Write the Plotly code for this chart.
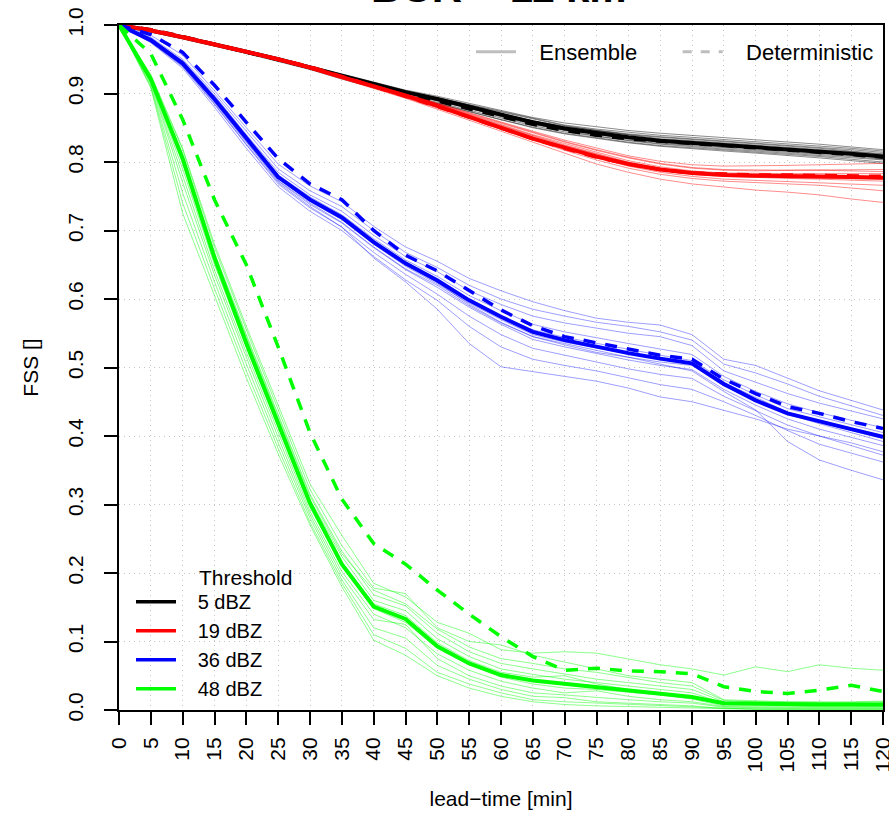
import plotly.graph_objects as go

LEAD = [0, 5, 10, 15, 20, 25, 30, 35, 40, 45, 50, 55, 60, 65, 70, 75, 80, 85, 90, 95, 100, 105, 110, 115, 120]
Y_TICKS = [0.0, 0.1, 0.2, 0.3, 0.4, 0.5, 0.6, 0.7, 0.8, 0.9, 1.0]
THRESHOLDS = ["5 dBZ", "19 dBZ", "36 dBZ", "48 dBZ"]
COLORS = ["#000000", "#FF0000", "#0000FF", "#00FF00"]
MEMBER_COLORS = ["rgba(0,0,0,0.45)", "rgba(255,0,0,0.45)", "rgba(0,0,255,0.38)", "rgba(0,255,0,0.45)"]

# ---- 5 dBZ ----
MEAN_5 = [1.0,0.992,0.982,0.972,0.961,0.950,0.938,0.925,0.913,0.902,0.892,0.881,0.869,0.858,0.849,0.842,0.836,0.831,0.828,0.825,0.822,0.819,0.815,0.812,0.808]
DET_5 = [1.0,0.993,0.983,0.972,0.961,0.950,0.938,0.925,0.912,0.900,0.889,0.878,0.866,0.855,0.846,0.839,0.834,0.830,0.827,0.824,0.821,0.818,0.814,0.811,0.807]
MEMBERS_5 = [
    [1.0,0.993,0.984,0.974,0.963,0.952,0.940,0.928,0.916,0.905,0.896,0.886,0.875,0.865,0.857,0.851,0.846,0.842,0.839,0.836,0.833,0.830,0.826,0.822,0.818],
    [1.0,0.991,0.981,0.970,0.958,0.947,0.935,0.921,0.908,0.896,0.885,0.873,0.861,0.850,0.841,0.834,0.828,0.823,0.819,0.816,0.813,0.810,0.806,0.802,0.798],
    [1.0,0.992,0.982,0.972,0.961,0.950,0.939,0.926,0.914,0.903,0.893,0.883,0.871,0.860,0.851,0.845,0.839,0.834,0.831,0.828,0.825,0.822,0.818,0.815,0.811],
    [1.0,0.992,0.983,0.973,0.962,0.951,0.939,0.926,0.913,0.901,0.890,0.879,0.866,0.855,0.846,0.838,0.832,0.827,0.824,0.821,0.818,0.815,0.811,0.808,0.804],
    [1.0,0.993,0.983,0.972,0.961,0.949,0.937,0.924,0.912,0.901,0.891,0.881,0.870,0.860,0.852,0.846,0.841,0.837,0.834,0.831,0.828,0.825,0.821,0.818,0.814],
    [1.0,0.991,0.981,0.971,0.960,0.949,0.937,0.923,0.910,0.898,0.887,0.876,0.864,0.853,0.844,0.837,0.831,0.826,0.822,0.819,0.816,0.813,0.810,0.807,0.803],
    [1.0,0.992,0.982,0.971,0.960,0.950,0.938,0.925,0.913,0.902,0.893,0.883,0.872,0.862,0.853,0.846,0.840,0.836,0.833,0.830,0.827,0.824,0.820,0.816,0.812],
    [1.0,0.992,0.982,0.972,0.961,0.950,0.937,0.924,0.911,0.900,0.889,0.878,0.867,0.856,0.847,0.840,0.834,0.829,0.826,0.823,0.820,0.817,0.813,0.810,0.806],
    [1.0,0.993,0.983,0.973,0.962,0.951,0.939,0.927,0.915,0.904,0.894,0.884,0.873,0.863,0.854,0.848,0.843,0.839,0.836,0.833,0.830,0.827,0.823,0.820,0.816],
    [1.0,0.991,0.981,0.971,0.960,0.948,0.936,0.922,0.909,0.897,0.886,0.874,0.862,0.851,0.842,0.835,0.829,0.824,0.821,0.818,0.815,0.812,0.808,0.804,0.800],
]

# ---- 19 dBZ ----
MEAN_19 = [1.0,0.992,0.982,0.972,0.961,0.950,0.938,0.924,0.911,0.897,0.882,0.866,0.849,0.834,0.821,0.808,0.797,0.789,0.784,0.781,0.780,0.780,0.779,0.778,0.777]
DET_19 = [1.0,0.993,0.983,0.972,0.962,0.951,0.939,0.925,0.911,0.896,0.881,0.865,0.849,0.834,0.820,0.807,0.797,0.789,0.784,0.782,0.781,0.781,0.780,0.780,0.779]
MEMBERS_19 = [
    [1.0,0.993,0.983,0.973,0.962,0.951,0.939,0.926,0.913,0.900,0.886,0.872,0.858,0.845,0.832,0.820,0.809,0.801,0.796,0.794,0.794,0.795,0.796,0.797,0.798],
    [1.0,0.991,0.981,0.971,0.960,0.948,0.936,0.922,0.908,0.893,0.877,0.861,0.845,0.829,0.812,0.797,0.785,0.775,0.768,0.763,0.759,0.756,0.752,0.746,0.741],
    [1.0,0.992,0.982,0.972,0.961,0.950,0.938,0.924,0.911,0.897,0.883,0.868,0.853,0.839,0.825,0.812,0.800,0.791,0.786,0.783,0.782,0.782,0.781,0.780,0.779],
    [1.0,0.992,0.982,0.971,0.960,0.949,0.937,0.923,0.909,0.895,0.880,0.864,0.849,0.834,0.820,0.806,0.794,0.785,0.779,0.775,0.773,0.772,0.770,0.768,0.766],
    [1.0,0.993,0.983,0.973,0.962,0.951,0.939,0.925,0.912,0.899,0.885,0.870,0.856,0.842,0.829,0.817,0.806,0.797,0.791,0.788,0.787,0.788,0.788,0.789,0.789],
    [1.0,0.992,0.982,0.972,0.961,0.950,0.938,0.924,0.910,0.896,0.881,0.866,0.851,0.836,0.822,0.809,0.797,0.788,0.782,0.779,0.777,0.776,0.775,0.773,0.772],
    [1.0,0.992,0.983,0.973,0.962,0.950,0.938,0.925,0.912,0.898,0.884,0.869,0.854,0.840,0.827,0.814,0.802,0.793,0.787,0.784,0.783,0.783,0.783,0.783,0.783],
    [1.0,0.991,0.981,0.971,0.960,0.949,0.937,0.923,0.910,0.896,0.882,0.867,0.852,0.838,0.824,0.811,0.799,0.790,0.784,0.780,0.778,0.777,0.776,0.776,0.775],
    [1.0,0.992,0.982,0.972,0.961,0.950,0.939,0.926,0.913,0.899,0.885,0.871,0.857,0.843,0.830,0.818,0.807,0.798,0.792,0.789,0.788,0.788,0.788,0.787,0.786],
    [1.0,0.992,0.982,0.972,0.961,0.949,0.937,0.923,0.909,0.894,0.879,0.863,0.847,0.832,0.817,0.803,0.791,0.782,0.776,0.772,0.770,0.768,0.766,0.762,0.758],
]

# ---- 36 dBZ ----
MEAN_36 = [1.0,0.978,0.944,0.892,0.835,0.778,0.745,0.719,0.683,0.652,0.627,0.598,0.574,0.552,0.540,0.530,0.521,0.513,0.506,0.476,0.452,0.433,0.421,0.410,0.399]
DET_36 = [1.0,0.986,0.960,0.912,0.858,0.805,0.768,0.745,0.700,0.664,0.641,0.612,0.584,0.561,0.545,0.536,0.527,0.518,0.512,0.483,0.462,0.443,0.433,0.421,0.411]
MEMBERS_36 = [
    [1.0,0.985,0.956,0.904,0.850,0.797,0.765,0.742,0.706,0.676,0.655,0.630,0.612,0.596,0.583,0.572,0.566,0.562,0.548,0.512,0.503,0.485,0.466,0.452,0.438],
    [1.0,0.982,0.950,0.900,0.845,0.790,0.758,0.735,0.700,0.668,0.646,0.620,0.600,0.585,0.575,0.566,0.560,0.552,0.540,0.505,0.492,0.476,0.458,0.444,0.430],
    [1.0,0.980,0.948,0.897,0.840,0.785,0.752,0.728,0.693,0.662,0.640,0.612,0.592,0.575,0.565,0.558,0.550,0.545,0.532,0.495,0.478,0.462,0.448,0.436,0.425],
    [1.0,0.979,0.946,0.894,0.838,0.781,0.749,0.723,0.688,0.657,0.633,0.605,0.583,0.563,0.552,0.543,0.535,0.527,0.519,0.487,0.465,0.447,0.434,0.423,0.412],
    [1.0,0.977,0.943,0.890,0.832,0.776,0.742,0.716,0.680,0.648,0.622,0.594,0.570,0.548,0.537,0.528,0.520,0.512,0.505,0.478,0.456,0.435,0.420,0.408,0.396],
    [1.0,0.978,0.944,0.893,0.836,0.778,0.746,0.720,0.685,0.654,0.630,0.600,0.575,0.555,0.544,0.535,0.526,0.518,0.510,0.482,0.460,0.440,0.428,0.416,0.405],
    [1.0,0.976,0.941,0.887,0.829,0.772,0.738,0.711,0.675,0.643,0.617,0.588,0.563,0.541,0.530,0.520,0.511,0.503,0.497,0.468,0.445,0.425,0.410,0.398,0.386],
    [1.0,0.979,0.945,0.892,0.834,0.779,0.747,0.721,0.684,0.650,0.624,0.592,0.566,0.545,0.533,0.522,0.515,0.508,0.503,0.473,0.452,0.432,0.418,0.405,0.392],
    [1.0,0.975,0.939,0.884,0.825,0.768,0.733,0.705,0.668,0.636,0.607,0.575,0.548,0.528,0.518,0.508,0.498,0.490,0.484,0.458,0.437,0.416,0.400,0.386,0.372],
    [1.0,0.974,0.937,0.880,0.820,0.764,0.728,0.700,0.662,0.628,0.598,0.560,0.530,0.512,0.503,0.495,0.485,0.475,0.468,0.450,0.430,0.408,0.388,0.375,0.362],
    [1.0,0.976,0.940,0.885,0.826,0.770,0.735,0.705,0.660,0.625,0.585,0.535,0.501,0.494,0.487,0.480,0.470,0.457,0.450,0.438,0.425,0.410,0.400,0.390,0.377],
    [1.0,0.977,0.942,0.888,0.830,0.773,0.740,0.712,0.676,0.644,0.620,0.590,0.565,0.545,0.535,0.525,0.515,0.505,0.495,0.465,0.438,0.392,0.365,0.350,0.336],
]

# ---- 48 dBZ ----
MEAN_48 = [1.0,0.921,0.805,0.660,0.535,0.420,0.302,0.213,0.151,0.133,0.093,0.068,0.051,0.043,0.038,0.034,0.028,0.024,0.019,0.010,0.009,0.009,0.008,0.008,0.008]
DET_48 = [1.0,0.958,0.862,0.745,0.650,0.530,0.405,0.308,0.243,0.213,0.175,0.140,0.107,0.078,0.058,0.061,0.057,0.056,0.053,0.034,0.027,0.024,0.029,0.036,0.027]
MEMBERS_48 = [
    [1.0,0.928,0.820,0.680,0.560,0.445,0.330,0.255,0.185,0.165,0.128,0.112,0.088,0.083,0.085,0.083,0.075,0.066,0.060,0.051,0.063,0.056,0.066,0.061,0.058],
    [1.0,0.926,0.818,0.675,0.555,0.438,0.322,0.240,0.178,0.170,0.120,0.100,0.095,0.080,0.070,0.060,0.050,0.045,0.040,0.015,0.013,0.012,0.012,0.011,0.012],
    [1.0,0.924,0.812,0.668,0.548,0.430,0.315,0.232,0.168,0.152,0.112,0.085,0.068,0.060,0.052,0.045,0.040,0.035,0.030,0.012,0.011,0.010,0.010,0.010,0.010],
    [1.0,0.922,0.805,0.662,0.542,0.424,0.307,0.224,0.160,0.145,0.104,0.078,0.060,0.052,0.045,0.040,0.035,0.030,0.025,0.010,0.009,0.009,0.008,0.008,0.009],
    [1.0,0.920,0.798,0.656,0.536,0.418,0.300,0.216,0.155,0.138,0.098,0.072,0.055,0.048,0.050,0.038,0.030,0.024,0.018,0.008,0.007,0.007,0.007,0.006,0.006],
    [1.0,0.919,0.790,0.650,0.530,0.412,0.296,0.210,0.148,0.128,0.090,0.066,0.048,0.038,0.032,0.030,0.026,0.022,0.016,0.006,0.006,0.005,0.005,0.005,0.005],
    [1.0,0.917,0.780,0.642,0.522,0.405,0.290,0.202,0.140,0.120,0.082,0.058,0.042,0.032,0.025,0.028,0.020,0.015,0.012,0.005,0.004,0.004,0.004,0.004,0.004],
    [1.0,0.915,0.770,0.635,0.515,0.398,0.285,0.196,0.132,0.125,0.075,0.050,0.035,0.025,0.022,0.018,0.015,0.012,0.010,0.004,0.003,0.003,0.003,0.003,0.003],
    [1.0,0.912,0.755,0.625,0.505,0.390,0.280,0.190,0.120,0.105,0.065,0.045,0.030,0.020,0.018,0.012,0.010,0.008,0.006,0.002,0.002,0.002,0.002,0.002,0.002],
    [1.0,0.910,0.740,0.615,0.495,0.382,0.274,0.185,0.110,0.090,0.055,0.038,0.025,0.015,0.012,0.010,0.008,0.006,0.005,0.002,0.001,0.001,0.001,0.001,0.001],
    [1.0,0.908,0.725,0.605,0.485,0.374,0.270,0.180,0.102,0.080,0.050,0.032,0.020,0.012,0.008,0.006,0.005,0.004,0.003,0.001,0.001,0.001,0.001,0.001,0.001],
    [1.0,0.921,0.808,0.665,0.545,0.428,0.312,0.228,0.175,0.155,0.118,0.092,0.075,0.068,0.060,0.055,0.048,0.040,0.035,0.014,0.012,0.011,0.011,0.012,0.013],
]

MEANS = [MEAN_5, MEAN_19, MEAN_36, MEAN_48]
DETS = [DET_5, DET_19, DET_36, DET_48]
MEMBERS = [MEMBERS_5, MEMBERS_19, MEMBERS_36, MEMBERS_48]

FONT = "Liberation Sans, Arial, Helvetica, sans-serif"
PAD = "\u00a0\u00a0\u00a0"

fig = go.Figure()

for i in range(4):
    for m in MEMBERS[i]:
        fig.add_trace(go.Scatter(x=LEAD, y=m, mode="lines",
                                 line=dict(color=MEMBER_COLORS[i], width=1),
                                 showlegend=False, hoverinfo="skip"))
    fig.add_trace(go.Scatter(x=LEAD, y=MEANS[i], mode="lines",
                             line=dict(color=COLORS[i], width=4),
                             showlegend=False, hoverinfo="skip"))
    fig.add_trace(go.Scatter(x=LEAD, y=DETS[i], mode="lines",
                             line=dict(color=COLORS[i], width=3.5, dash="12px,10px"),
                             showlegend=False, hoverinfo="skip"))

# line-style legend (top right)
fig.add_trace(go.Scatter(x=[None], y=[None], mode="lines", name=PAD + "Ensemble",
                         line=dict(color="#bebebe", width=3), legend="legend"))
fig.add_trace(go.Scatter(x=[None], y=[None], mode="lines", name=PAD + "Deterministic",
                         line=dict(color="#bebebe", width=3, dash="9px,9px"), legend="legend3"))
# threshold legend (bottom left)
for i in range(4):
    fig.add_trace(go.Scatter(x=[None], y=[None], mode="lines", name=PAD + THRESHOLDS[i],
                             line=dict(color=COLORS[i], width=3.5), legend="legend2"))

leg_common = dict(bgcolor="rgba(0,0,0,0)", font=dict(size=22), itemwidth=40)

fig.update_layout(
    width=889, height=813,
    margin=dict(l=119, r=6, t=25, b=103, autoexpand=False),
    paper_bgcolor="white", plot_bgcolor="white",
    font=dict(family=FONT, size=21, color="black"),
    legend=dict(x=0.4607, y=0.9606, xanchor="left", yanchor="middle", **leg_common),
    legend3=dict(x=0.7313, y=0.9606, xanchor="left", yanchor="middle", **leg_common),
    legend2=dict(orientation="v", x=0.0157, y=0.1866, xanchor="left", yanchor="top",
                 tracegroupgap=0, bgcolor="rgba(0,0,0,0)", font=dict(size=20), itemwidth=40),
    annotations=[
        dict(text="<b>BCR = 11 km</b>", xref="paper", yref="paper",
             x=0.4974, y=1.0, yshift=12, xanchor="center", yanchor="bottom",
             showarrow=False, font=dict(size=42, family=FONT)),
        dict(text="Threshold", xref="paper", yref="paper",
             x=(197 - 119) / 764, y=(710 - 577) / 685, xanchor="left", yanchor="middle",
             showarrow=False, font=dict(size=21, family=FONT)),
    ],
)

fig.update_xaxes(
    range=[0, 120], tickmode="array", tickvals=LEAD, ticktext=[str(v) for v in LEAD],
    tickangle=-90, ticks="outside", ticklen=13, tickwidth=2, tickcolor="black",
    showline=True, linewidth=2, linecolor="black", mirror=True, automargin=False,
    showgrid=True, gridcolor="#c4c4c4", griddash="1px,4px", gridwidth=1.2, zeroline=False,
    ticklabelstandoff=4, ticklabeloverflow="allow", tickfont=dict(size=21),
    title=dict(text="lead\u2212time [min]", font=dict(size=21), standoff=20),
)
fig.update_yaxes(
    range=[0, 1], tickmode="array", tickvals=Y_TICKS, ticktext=[f"{v:.1f}" for v in Y_TICKS],
    tickangle=-90, ticks="outside", ticklen=13, tickwidth=2, tickcolor="black",
    showline=True, linewidth=2, linecolor="black", mirror=True, automargin=False,
    showgrid=True, gridcolor="#c4c4c4", griddash="1px,4px", gridwidth=1.2, zeroline=False,
    ticklabelstandoff=13, ticklabeloverflow="allow", tickfont=dict(size=21),
    title=dict(text="FSS []", font=dict(size=21), standoff=19),
)

fig.write_html("out.html", config={"displayModeBar": False},
               post_script="document.body.style.margin='0px';document.body.style.overflow='hidden';")
